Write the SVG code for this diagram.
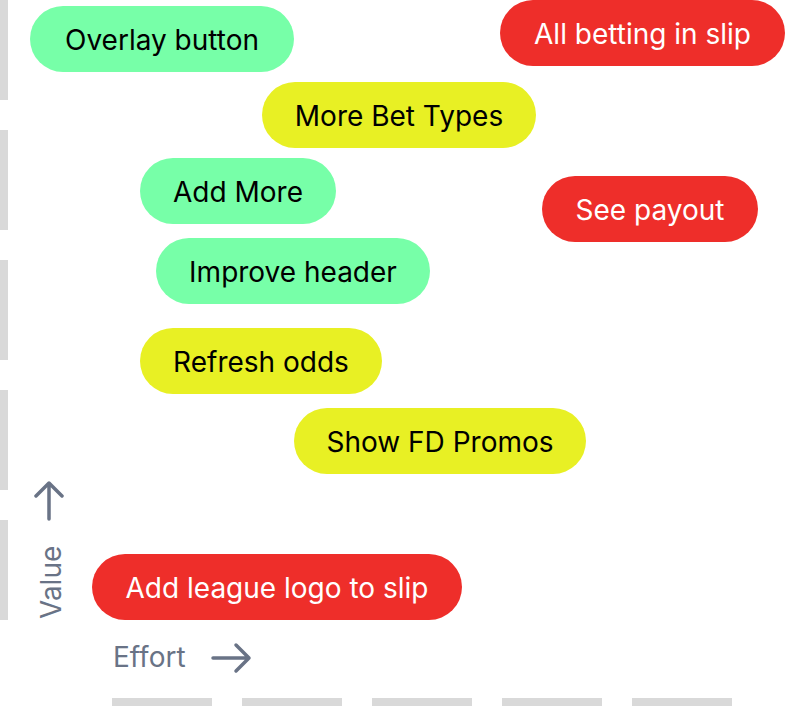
<svg xmlns="http://www.w3.org/2000/svg" width="786" height="706" viewBox="0 0 786 706">
<style>
.bar{fill:#d9d9d9}
.pill text{font-family:Inter,"Noto Sans",sans-serif;font-size:28px;text-anchor:middle}
.g rect{fill:#77ffa8}
.y rect{fill:#e8f024}
.r rect{fill:#ee2e2a}
.g text,.y text{fill:#000}
.r text{fill:#fff}
.axis{font-family:Inter,"Noto Sans",sans-serif;font-size:28px;fill:#697386}
.arr{fill:none;stroke:#697386;stroke-width:3.5;stroke-linecap:round;stroke-linejoin:round}
</style>
<rect width="786" height="706" fill="#fff"/>
<g id="grid">
<rect class="bar" x="0" y="0" width="8" height="100"/>
<rect class="bar" x="0" y="130" width="8" height="100"/>
<rect class="bar" x="0" y="260" width="8" height="100"/>
<rect class="bar" x="0" y="390" width="8" height="100"/>
<rect class="bar" x="0" y="520" width="8" height="100"/>
<rect class="bar" x="112" y="698" width="100" height="8"/>
<rect class="bar" x="242" y="698" width="100" height="8"/>
<rect class="bar" x="372" y="698" width="100" height="8"/>
<rect class="bar" x="502" y="698" width="100" height="8"/>
<rect class="bar" x="632" y="698" width="100" height="8"/>
</g>
<g id="n-overlay" class="pill g"><rect x="30" y="6" width="264" height="66" rx="33"/><text x="162" y="49.5">Overlay button</text></g>
<g id="n-allbetting" class="pill r"><rect x="500" y="0" width="285" height="66" rx="33"/><text x="642.5" y="43.5">All betting in slip</text></g>
<g id="n-morebet" class="pill y"><rect x="262" y="82" width="274" height="66" rx="33"/><text x="399" y="125.5">More Bet Types</text></g>
<g id="n-addmore" class="pill g"><rect x="140" y="158" width="196" height="66" rx="33"/><text x="238" y="201.5">Add More</text></g>
<g id="n-seepayout" class="pill r"><rect x="542" y="176" width="216" height="66" rx="33"/><text x="650" y="219.5">See payout</text></g>
<g id="n-improve" class="pill g"><rect x="156" y="238" width="274" height="66" rx="33"/><text x="293" y="281.5">Improve header</text></g>
<g id="n-refresh" class="pill y"><rect x="140" y="328" width="242" height="66" rx="33"/><text x="261" y="371.5">Refresh odds</text></g>
<g id="n-promos" class="pill y"><rect x="294" y="408" width="292" height="66" rx="33"/><text x="440" y="451.5">Show FD Promos</text></g>
<g id="n-league" class="pill r"><rect x="92" y="554" width="370" height="66" rx="33"/><text x="277" y="597.5">Add league logo to slip</text></g>
<g id="axes">
<text class="axis" x="113" y="667">Effort</text>
<text class="axis" transform="translate(61,619) rotate(-90)">Value</text>
<path class="arr" d="M213 658H249M236 645L249 658L236 671"/>
<path class="arr" d="M49 519V483M36 496L49 483L62 496"/>
</g>
</svg>
